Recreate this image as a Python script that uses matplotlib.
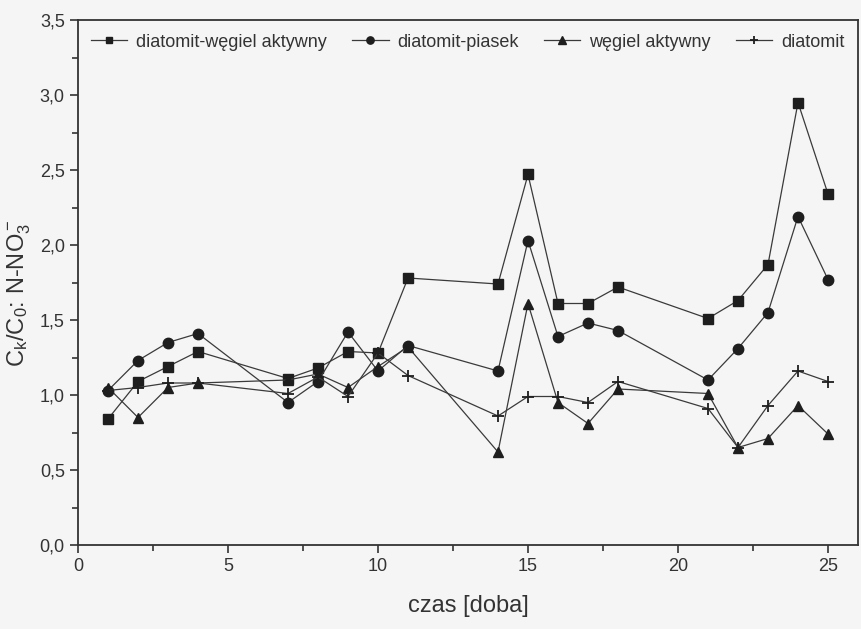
import matplotlib
matplotlib.use("Agg")
import matplotlib.pyplot as plt
from matplotlib.ticker import MultipleLocator, FuncFormatter

plt.rcParams['font.family'] = ['Liberation Sans', 'DejaVu Sans']
plt.rcParams['mathtext.default'] = 'regular'

days = [1, 2, 3, 4, 7, 8, 9, 10, 11, 14, 15, 16, 17, 18, 21, 22, 23, 24, 25]
diatomit_wegiel = [0.84, 1.09, 1.19, 1.29, 1.11, 1.18, 1.29, 1.28, 1.78, 1.74, 2.47, 1.61, 1.61, 1.72, 1.51, 1.63, 1.87, 2.95, 2.34]
diatomit_piasek = [1.03, 1.23, 1.35, 1.41, 0.95, 1.09, 1.42, 1.16, 1.33, 1.16, 2.03, 1.39, 1.48, 1.43, 1.10, 1.31, 1.55, 2.19, 1.77]
wegiel = [1.05, 0.85, 1.05, 1.08, 1.10, 1.14, 1.05, 1.19, 1.32, 0.62, 1.61, 0.95, 0.81, 1.04, 1.01, 0.65, 0.71, 0.93, 0.74]
diatomit = [1.03, 1.05, 1.08, 1.08, 1.01, 1.12, 0.99, 1.28, 1.13, 0.86, 0.99, 0.99, 0.95, 1.09, 0.91, 0.65, 0.93, 1.16, 1.09]
labels = ['diatomit-węgiel aktywny', 'diatomit-piasek', 'węgiel aktywny', 'diatomit']

fig = plt.figure(figsize=(8.62, 6.29), dpi=100, facecolor='#f5f5f5')
ax = fig.add_axes([78/862, 1-545/629, 780/862, 525/629])
ax.set_facecolor('#f5f5f5')

lc = '#3a3a3a'
mc = '#1e1e1e'
ax.plot(days, diatomit_wegiel, '-', marker='s', color=lc, mfc=mc, mec=mc, ms=6.5, lw=0.9, label=labels[0])
ax.plot(days, diatomit_piasek, '-', marker='o', color=lc, mfc=mc, mec=mc, ms=7.5, lw=0.9, label=labels[1])
ax.plot(days, wegiel, '-', marker='^', color=lc, mfc=mc, mec=mc, ms=7.5, lw=0.9, label=labels[2])
ax.plot(days, diatomit, '-', marker='+', color=lc, mfc=mc, mec=mc, ms=9, mew=1.3, lw=0.9, label=labels[3])

ax.set_xlim(0, 26)
ax.set_ylim(0, 3.5)
ax.xaxis.set_major_locator(MultipleLocator(5))
ax.xaxis.set_minor_locator(MultipleLocator(2.5))
ax.yaxis.set_major_locator(MultipleLocator(0.5))
ax.yaxis.set_minor_locator(MultipleLocator(0.25))
ax.yaxis.set_major_formatter(FuncFormatter(lambda v, p: f"{v:.1f}".replace('.', ',')))
ax.tick_params(which='both', direction='out', top=False, right=False, labelsize=13, colors='#333333')
ax.tick_params(which='major', length=6, width=1.2)
ax.tick_params(which='minor', length=4, width=1.2)
for s in ax.spines.values():
    s.set_linewidth(1.3)
    s.set_color('#333333')

ax.set_xlabel('czas [doba]', fontsize=17, color='#333333', labelpad=14)
ax.set_ylabel(r'C$_k$/C$_0$: N-NO$_3^-$', fontsize=17, color='#333333')
ax.yaxis.set_label_coords(-0.058, 0.48)

leg = ax.legend(loc='upper center', ncol=4, frameon=False, fontsize=13, handlelength=2.0,
                columnspacing=1.4, handletextpad=0.5, markerscale=0.7,
                bbox_to_anchor=(0.5, 1.0), borderaxespad=0.35)
for t in leg.get_texts():
    t.set_color('#333333')

fig.savefig('out.png', dpi=100, facecolor=fig.get_facecolor())
